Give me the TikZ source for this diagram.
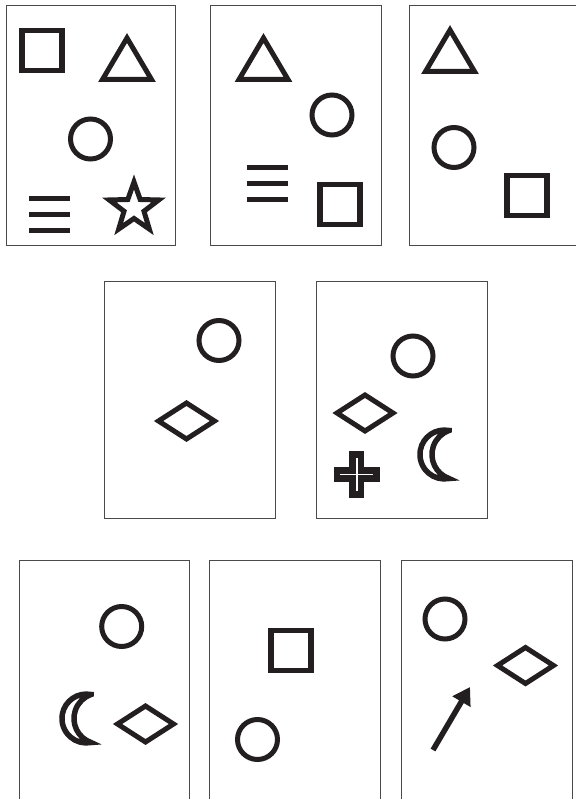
\documentclass[tikz,border=0pt]{standalone}
\usetikzlibrary{arrows.meta}
\definecolor{ink}{HTML}{231F20}
\definecolor{framecol}{HTML}{4A4A4A}
\begin{document}
\begin{tikzpicture}[x=1pt,y=-1pt,
  panel/.style={draw=framecol,line width=1pt},
  shp/.style={draw=ink,line width=5pt,line join=miter},
  ring/.pic={\draw[shp] (0,0) circle[radius=20];},
  sqr/.pic={\draw[shp,line width=5.5pt] (-20,-20) rectangle (20,20);},
  tri/.pic={\draw[shp] (0,-19.5) -- (-24.5,22) -- (24.5,22) -- cycle;},
  dia/.pic={\draw[shp] (-28,0) -- (0,-18) -- (28,0) -- (0,18) -- cycle;},
  bars/.pic={\draw[shp,line cap=butt] (-20.5,-16) -- (20.5,-16) (-20.5,0) -- (20.5,0) (-20.5,16) -- (20.5,16);},
  starshape/.pic={\draw[shp] (-90:26) -- (-54:10.5) -- (-18:26) -- (18:10.5) -- (54:26) -- (90:10.5) -- (126:26) -- (162:10.5) -- (198:26) -- (234:10.5) -- cycle;},
  moon/.pic={\draw[shp,line width=5.5pt,miter limit=6] (0,-24) arc[start angle=-79.15, end angle=-280.85, radius=24.44] arc[start angle=109.3, end angle=250.7, radius=25.43] -- cycle;},
  plus/.pic={\draw[shp,line width=6.8pt] (-4.1,-19.9) -- (4.1,-19.9) -- (4.1,-4.1) -- (19.9,-4.1) -- (19.9,4.1) -- (4.1,4.1) -- (4.1,19.9) -- (-4.1,19.9) -- (-4.1,4.1) -- (-19.9,4.1) -- (-19.9,-4.1) -- (-4.1,-4.1) -- cycle;}
]
\useasboundingbox (0,0) rectangle (575,799);
\fill[white] (0,0) rectangle (575,799);
% panels
\draw[panel] (6,6) rectangle (175.5,246);
\draw[panel] (210,6) rectangle (381,246);
\draw[panel] (409,6) rectangle (585,246);
\draw[panel] (104,281) rectangle (275,518);
\draw[panel] (316,281) rectangle (487,518);
\draw[panel] (19,560) rectangle (189,815);
\draw[panel] (209,560) rectangle (380,815);
\draw[panel] (401,560) rectangle (572,815);
% panel 1
\pic at (42,50.5) {sqr};
\pic at (127,57.5) {tri};
\pic at (90.5,139) {ring};
\pic at (49.7,215) {bars};
\pic at (134,208) {starshape};
% panel 2
\pic at (263.5,57.5) {tri};
\pic at (332,115) {ring};
\pic at (267.5,183.3) {bars};
\pic at (340,204.5) {sqr};
% panel 3
\pic at (450,49.5) {tri};
\pic at (454,147.5) {ring};
\pic at (527,195.5) {sqr};
% panel 4
\pic at (219,340.5) {ring};
\pic at (186.5,421) {dia};
% panel 5
\pic at (413,356) {ring};
\pic at (365,413) {dia};
\pic at (449,454.5) {moon};
\pic at (356.8,474.2) {plus};
% panel 7
\pic at (121.7,626.5) {ring};
\pic at (91,718.5) {moon};
\pic at (145.5,724) {dia};
% panel 8
\pic at (291,650.5) {sqr};
\pic at (257.5,739.5) {ring};
% panel 9
\pic at (445,619) {ring};
\pic at (525.5,665.5) {dia};
\coordinate (tail) at (433,750);
\coordinate (tip) at (470,687);
\draw[ink,line width=5.5pt,-{Triangle[length=17pt,width=20pt]}] (tail) -- (tip);
\end{tikzpicture}
\end{document}
